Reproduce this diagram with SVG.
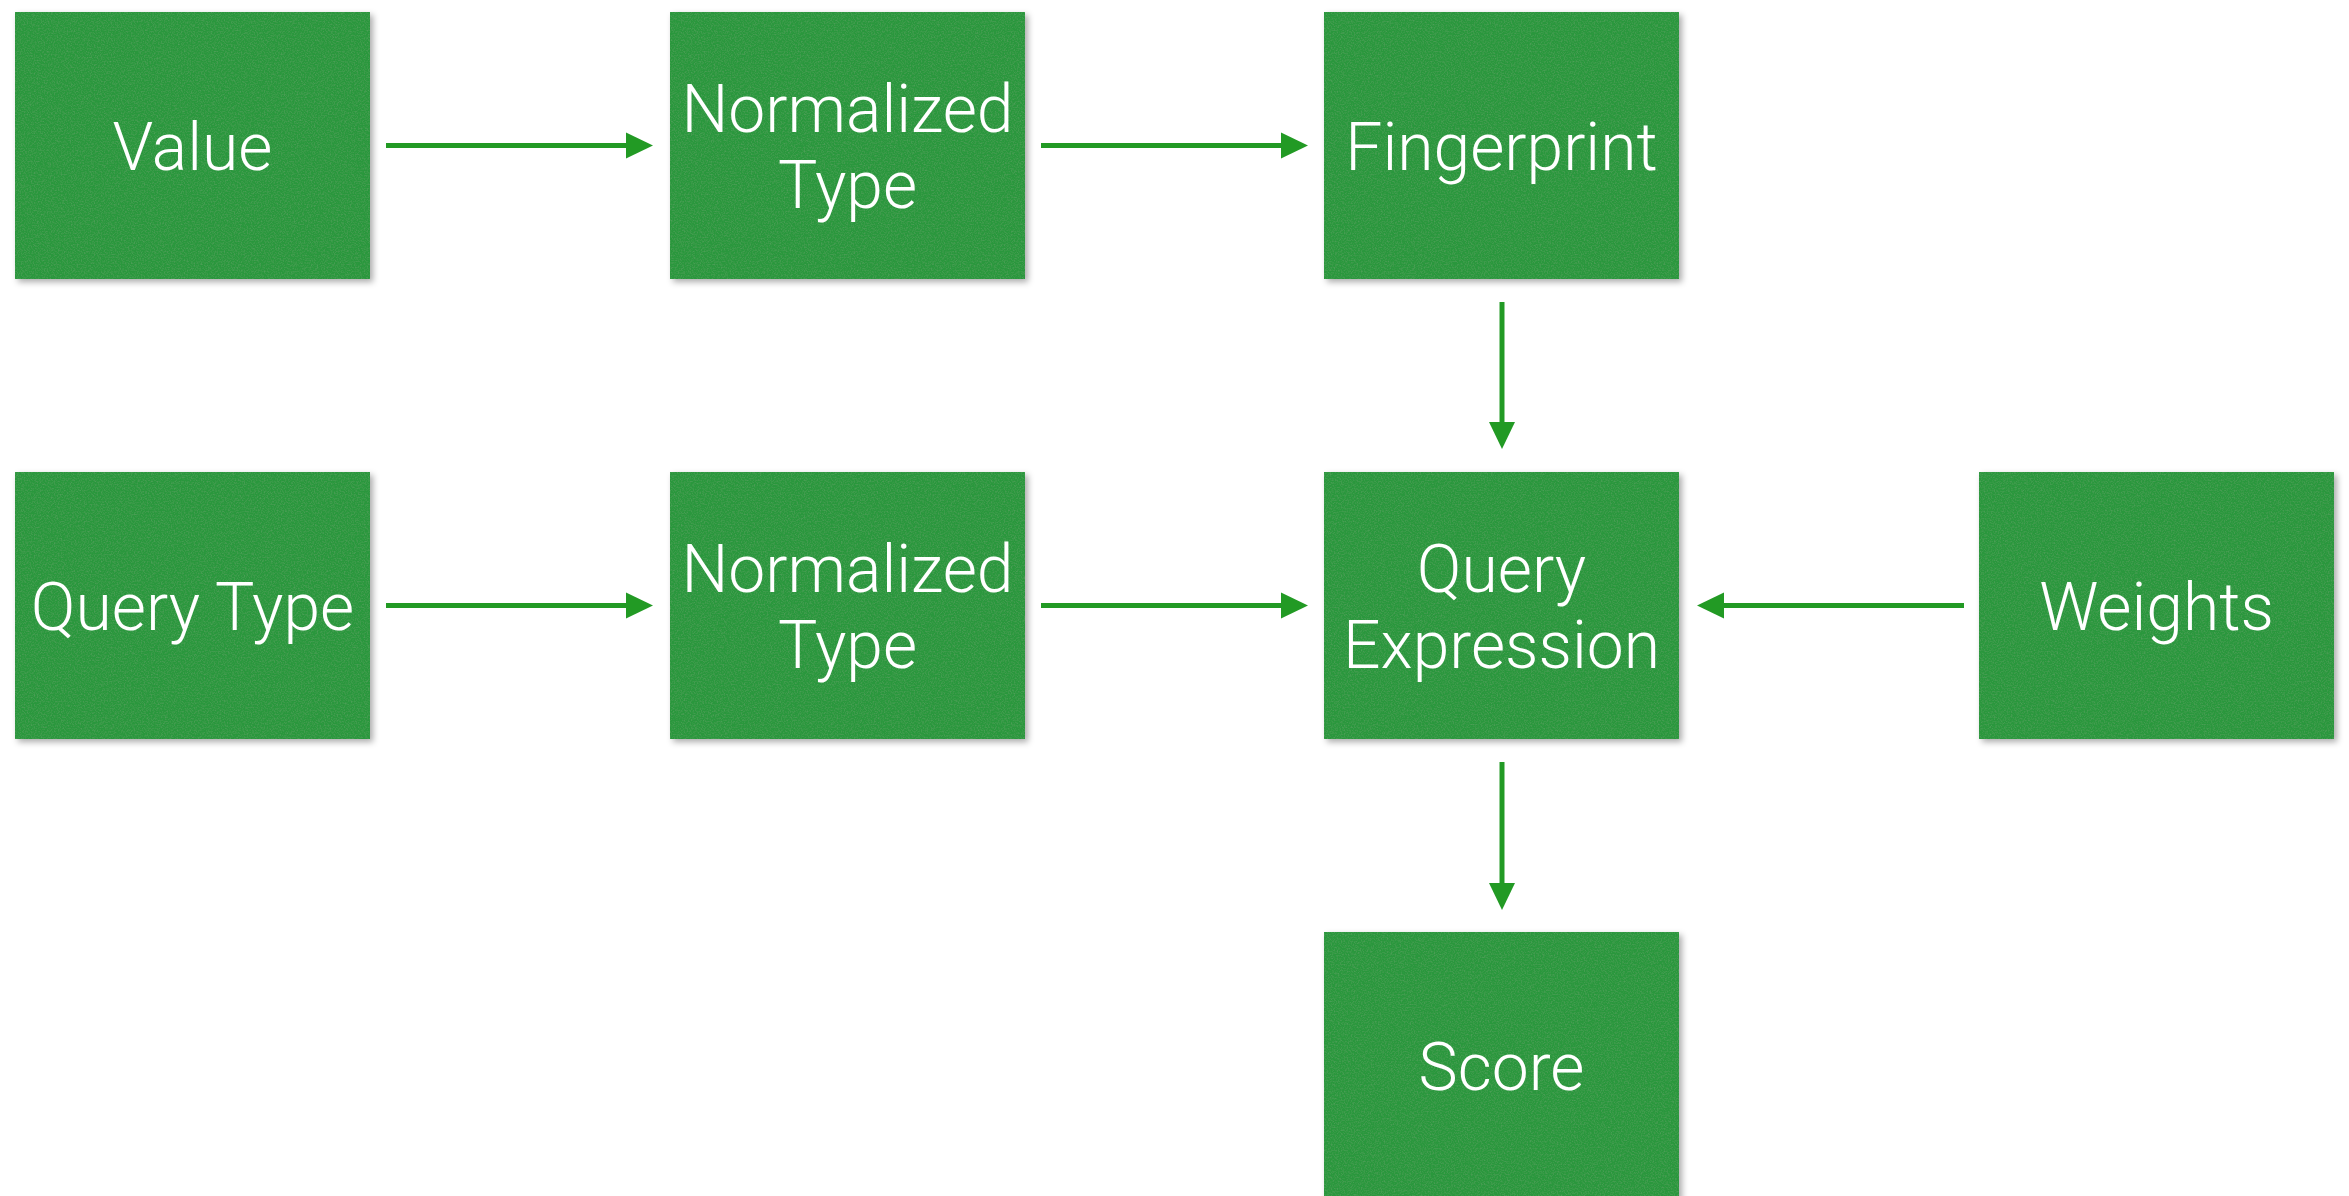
<svg xmlns="http://www.w3.org/2000/svg" width="2349" height="1196" viewBox="0 0 2349 1196">
  <defs>
    <style>
      .card { fill: #2a973d; filter: url(#paper); }
      .label { fill: #ffffff; font-family: Roboto, "Liberation Sans", "DejaVu Sans", sans-serif; font-weight: 300; font-size: 66px; text-anchor: middle; }
      .flow { stroke: #229a24; stroke-width: 5; fill: none; marker-end: url(#head); }
    </style>
    <!-- paper-like card: soft drop shadow plus a very faint fine grain -->
    <filter id="paper" x="-5%" y="-5%" width="112%" height="112%">
      <feGaussianBlur in="SourceAlpha" stdDeviation="3" result="blur"/>
      <feOffset in="blur" dx="3" dy="3" result="off"/>
      <feFlood flood-color="#000000" flood-opacity="0.33"/>
      <feComposite in2="off" operator="in" result="shadow"/>
      <feTurbulence type="fractalNoise" baseFrequency="0.7" numOctaves="2" seed="7" result="noise"/>
      <feColorMatrix in="noise" type="matrix" values="0 0 0 0 1  0 0 0 0 1  0 0 0 0 1  0.12 0 0 0 -0.05" result="speck"/>
      <feComposite in="speck" in2="SourceAlpha" operator="in" result="grain"/>
      <feMerge>
        <feMergeNode in="shadow"/>
        <feMergeNode in="SourceGraphic"/>
        <feMergeNode in="grain"/>
      </feMerge>
    </filter>
    <marker id="head" markerUnits="userSpaceOnUse" markerWidth="30" markerHeight="30" refX="1" refY="0" orient="auto" overflow="visible">
      <path d="M0,-13 L27,0 L0,13 Z" fill="#229a24"/>
    </marker>
  </defs>

  <rect width="2349" height="1196" fill="#ffffff"/>

  <g id="connectors">
    <path class="flow" d="M386,145.5 H627"/>
    <path class="flow" d="M1041,145.5 H1282"/>
    <path class="flow" d="M1502,302 V423"/>
    <path class="flow" d="M386,605.5 H627"/>
    <path class="flow" d="M1041,605.5 H1282"/>
    <path class="flow" d="M1964,605.5 H1723"/>
    <path class="flow" d="M1502,762 V884"/>
  </g>

  <g id="value">
    <rect class="card" x="15" y="12" width="355" height="267"/>
    <text class="label" x="192.5" y="169.5">Value</text>
  </g>
  <g id="normalized-type-1">
    <rect class="card" x="670" y="12" width="355" height="267"/>
    <text class="label" x="847.5" y="131.5">Normalized</text>
    <text class="label" x="847.5" y="207.5">Type</text>
  </g>
  <g id="fingerprint">
    <rect class="card" x="1324" y="12" width="355" height="267"/>
    <text class="label" x="1501.5" y="169.5">Fingerprint</text>
  </g>
  <g id="query-type">
    <rect class="card" x="15" y="472" width="355" height="267"/>
    <text class="label" x="192.5" y="629.5">Query Type</text>
  </g>
  <g id="normalized-type-2">
    <rect class="card" x="670" y="472" width="355" height="267"/>
    <text class="label" x="847.5" y="591.5">Normalized</text>
    <text class="label" x="847.5" y="667.5">Type</text>
  </g>
  <g id="query-expression">
    <rect class="card" x="1324" y="472" width="355" height="267"/>
    <text class="label" x="1501.5" y="591.5">Query</text>
    <text class="label" x="1501.5" y="667.5">Expression</text>
  </g>
  <g id="weights">
    <rect class="card" x="1979" y="472" width="355" height="267"/>
    <text class="label" x="2156.5" y="629.5">Weights</text>
  </g>
  <g id="score">
    <rect class="card" x="1324" y="932" width="355" height="267"/>
    <text class="label" x="1501.5" y="1089.5">Score</text>
  </g>
</svg>
